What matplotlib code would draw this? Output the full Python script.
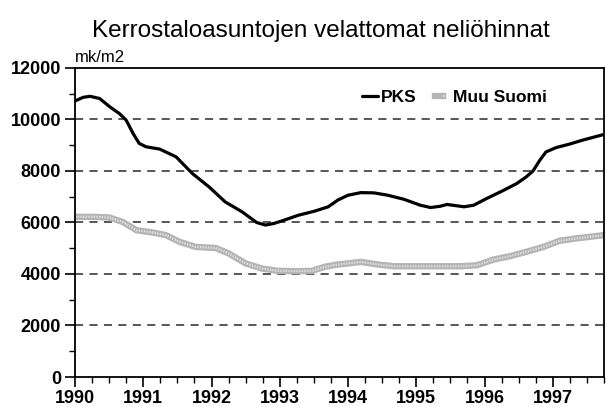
import matplotlib
matplotlib.use("Agg")
import matplotlib.pyplot as plt
from matplotlib.legend_handler import HandlerTuple
from matplotlib.ticker import MultipleLocator

# PKS (pääkaupunkiseutu), mk/m2
pks_x = [1990.0, 1990.12, 1990.22, 1990.36, 1990.51, 1990.65, 1990.75, 1990.85, 1990.94,
         1991.04, 1991.24, 1991.48, 1991.72, 1991.96, 1992.2, 1992.45, 1992.66, 1992.79,
         1992.91, 1993.03, 1993.27, 1993.51, 1993.71, 1993.85, 1994.0, 1994.19, 1994.38,
         1994.58, 1994.82, 1995.06, 1995.21, 1995.35, 1995.45, 1995.70, 1995.84, 1996.03,
         1996.28, 1996.47, 1996.61, 1996.71, 1996.81, 1996.90, 1997.05, 1997.24, 1997.44,
         1997.75]
pks_y = [10720, 10860, 10900, 10815, 10490, 10230, 9970, 9460, 9070,
         8940, 8850, 8550, 7900, 7390, 6800, 6410, 6000, 5900,
         5960, 6060, 6280, 6440, 6610, 6870, 7060, 7160, 7150,
         7060, 6900, 6670, 6580, 6630, 6700, 6610, 6670, 6930,
         7250, 7510, 7770, 8000, 8420, 8740, 8910, 9040, 9200,
         9420]

# Muu Suomi
muu_x = [1990.0, 1990.27, 1990.51, 1990.70, 1990.90, 1991.14, 1991.33, 1991.53, 1991.77,
         1992.06, 1992.25, 1992.50, 1992.74, 1992.98, 1993.27, 1993.47, 1993.66, 1993.85,
         1994.0, 1994.19, 1994.43, 1994.68, 1995.16, 1995.64, 1995.89, 1996.13, 1996.37,
         1996.61, 1996.86, 1997.10, 1997.34, 1997.75]
muu_y = [6220, 6220, 6190, 6020, 5700, 5610, 5510, 5250, 5050,
         5010, 4800, 4410, 4210, 4120, 4110, 4120, 4280, 4370,
         4410, 4470, 4370, 4300, 4300, 4300, 4340, 4560, 4690,
         4860, 5050, 5290, 5380, 5510]

years = list(range(1990, 1998))
y_ticks = [0, 2000, 4000, 6000, 8000, 10000, 12000]
grid_levels = [2000, 4000, 6000, 8000, 10000]

FONT = ["Liberation Sans Narrow", "Liberation Sans", "DejaVu Sans"]
plt.rcParams["font.family"] = FONT

fig = plt.figure(figsize=(6.06, 4.07), dpi=100)
ax = fig.add_axes([0.1238, 0.0737, 0.8729, 0.7593])

for g in grid_levels:
    ax.axhline(g, color="#4a4a4a", lw=1.3, dashes=(4.5, 3.5), zorder=1)

pks_line, = ax.plot(pks_x, pks_y, color="black", lw=2.3, solid_joinstyle="round",
                    solid_capstyle="round", zorder=3)
muu_base, = ax.plot(muu_x, muu_y, color="#b4b4b4", lw=4.6, solid_joinstyle="round", zorder=2)
muu_top, = ax.plot(muu_x, muu_y, color="#e2e2e2", lw=1.6, dashes=(0.6, 0.6), zorder=2)

ax.set_xlim(1990, 1997.75)
ax.set_ylim(0, 12000)
ax.set_xticks(years)
ax.set_yticks(y_ticks)
ax.xaxis.set_minor_locator(MultipleLocator(0.25))
ax.yaxis.set_minor_locator(MultipleLocator(1000))
ax.tick_params(which="major", direction="out", length=7, width=1.2, colors="black",
               labelsize=13, pad=3)
ax.tick_params(which="minor", direction="out", length=4, width=1.0)
for lab in ax.get_xticklabels() + ax.get_yticklabels():
    lab.set_fontweight("bold")
ax.tick_params(axis="x", which="major", pad=2)

for side in ["left", "bottom", "top", "right"]:
    ax.spines[side].set_linewidth(1.3)

ax.legend([pks_line, (muu_base, muu_top)], ["PKS", "Muu Suomi"],
          handler_map={tuple: HandlerTuple(ndivide=None, pad=0)},
          loc="center", bbox_to_anchor=(0.718, 0.906), ncol=2, frameon=False,
          handlelength=0.9, handletextpad=0.15, columnspacing=1.1,
          prop={"family": FONT, "weight": "bold", "size": 12.5})

fig.text(0.53, 0.925, "Kerrostaloasuntojen velattomat neliöhinnat", ha="center",
         va="center", fontsize=17.5)
fig.text(0.124, 0.858, "mk/m2", ha="left", va="center", fontsize=12)

fig.savefig("out.png", dpi=100)
